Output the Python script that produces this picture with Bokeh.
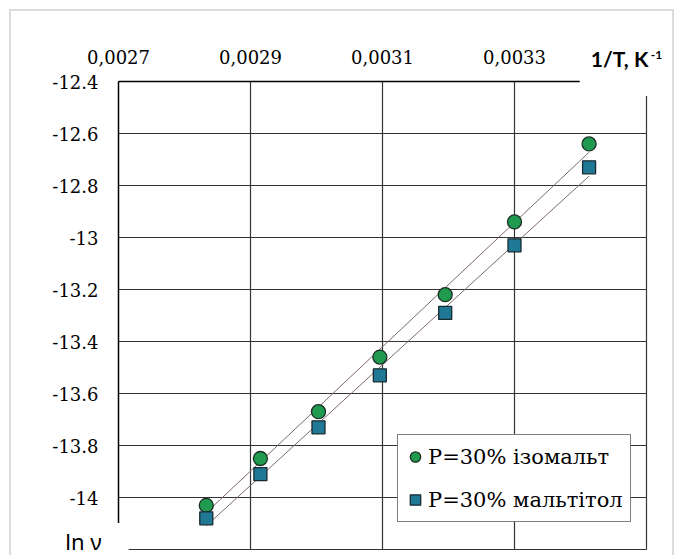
import numpy as np
from bokeh.plotting import figure
from bokeh.models import (FixedTicker, CustomJSTickFormatter, BasicTickFormatter,
                          Label, Legend, LegendItem)
from bokeh.embed import file_html
from bokeh.resources import INLINE

# ---- data ----
inv_T = [0.002833, 0.002915, 0.003003, 0.003096, 0.003195, 0.003300, 0.003413]
ln_v_isomalt = [-14.03, -13.85, -13.67, -13.46, -13.22, -12.94, -12.64]
ln_v_maltitol = [-14.08, -13.91, -13.73, -13.53, -13.29, -13.03, -12.73]
series_labels = ["P=30% ізомальт", "P=30% мальтітол"]
x_ticks = [0.0027, 0.0029, 0.0031, 0.0033]
x_grid = [0.0029, 0.0031, 0.0033, 0.0035]
y_ticks = [-14.0, -13.8, -13.6, -13.4, -13.2, -13.0, -12.8, -12.6, -12.4]
y_tick_labels = ["-14", "-13.8", "-13.6", "-13.4", "-13.2", "-13", "-12.8", "-12.6", "-12.4"]
y_grid = [-14.2, -14.0, -13.8, -13.6, -13.4, -13.2, -13.0, -12.8, -12.6]
x_bounds = (0.0027, 0.0035)
y_bounds = (-14.2, -12.4)
x_title = "1/T, K"
x_title_sup = "-1"
y_title = "ln ν"

SERIF = "DejaVu Serif"

# pixel geometry of the drawing area
W, H = 665, 546
PX_X = 660000.0   # pixels per unit of 1/T
PX_Y = 260.0      # pixels per unit of ln v
LEFT, TOP = 107, 70   # position of (x_bounds[0], y_bounds[1]) inside the canvas

x0 = x_bounds[0] - LEFT / PX_X
x1 = x0 + W / PX_X
y1 = y_bounds[1] + TOP / PX_Y
y0 = y1 - H / PX_Y

p = figure(width=W, height=H, output_backend="svg", toolbar_location=None,
           x_axis_location="above",
           x_range=(x0, x1), y_range=(y0, y1),
           min_border_left=0, min_border_right=0,
           min_border_top=0, min_border_bottom=0)
p.styles = {"margin-left": "9px", "margin-top": "9px",
            "border-left": "2px solid #dcdcdc",
            "border-top": "2px solid #dcdcdc",
            "border-right": "2px solid #dcdcdc"}
p.outline_line_color = None
p.background_fill_color = "white"
p.border_fill_color = "white"

xa = p.xaxis[0]
ya = p.yaxis[0]
xa.ticker = FixedTicker(ticks=x_ticks)
ya.ticker = FixedTicker(ticks=y_ticks)
xa.formatter = CustomJSTickFormatter(code="return tick.toFixed(4).replace('.', ',');")
ya.formatter = BasicTickFormatter(use_scientific=False)
ya.major_label_overrides = {t: s for t, s in zip(y_ticks, y_tick_labels)}
xa.fixed_location = y_bounds[1]
ya.fixed_location = x_bounds[0]
xa.bounds = x_bounds
ya.bounds = y_bounds

for ax in (xa, ya):
    ax.axis_line_color = "black"
    ax.axis_line_width = 1.5
    ax.major_tick_in = 0
    ax.major_tick_out = 0
    ax.minor_tick_in = 0
    ax.minor_tick_out = 0
    ax.major_label_text_font = SERIF
    ax.major_label_text_font_style = "normal"
    ax.major_label_text_font_size = "18px"
    ax.major_label_text_color = "black"
ya.major_label_standoff = 20
xa.major_label_standoff = 18

grid_ok = True
try:
    p.xgrid.cross_bounds = y_bounds
    p.ygrid.cross_bounds = x_bounds
except Exception:
    grid_ok = False

if grid_ok:
    p.xgrid.ticker = FixedTicker(ticks=x_grid)
    p.ygrid.ticker = FixedTicker(ticks=y_grid)
    for g in (p.xgrid, p.ygrid):
        g.grid_line_color = "#333333"
        g.grid_line_width = 1.2
else:
    p.xgrid.visible = False
    p.ygrid.visible = False
    p.segment(x0=x_grid, y0=[y_bounds[0]] * len(x_grid),
              x1=x_grid, y1=[y_bounds[1]] * len(x_grid),
              line_color="#333333", line_width=1.2)
    p.segment(x0=[x_bounds[0]] * len(y_grid), y0=y_grid,
              x1=[x_bounds[1]] * len(y_grid), y1=y_grid,
              line_color="#333333", line_width=1.2)

# trend lines (least squares fit of each series)
for ys in (ln_v_isomalt, ln_v_maltitol):
    coef = np.polyfit(inv_T, ys, 1)
    xs = np.array([min(inv_T), max(inv_T)])
    p.line(xs, np.polyval(coef, xs), line_color="#7d6a6a", line_width=1)

r1 = p.scatter(inv_T, ln_v_isomalt, marker="circle", size=14,
               fill_color="#1f9a4e", line_color="#1b2e26", line_width=1.3)
r2 = p.scatter(inv_T, ln_v_maltitol, marker="square", size=13,
               fill_color="#1f7894", line_color="#182a30", line_width=1.3)

legend = Legend(items=[LegendItem(label=series_labels[0], renderers=[r1]),
                       LegendItem(label=series_labels[1], renderers=[r2])],
                location=(386, 35), margin=0, padding=4, spacing=8,
                label_standoff=0, glyph_width=26, glyph_height=35,
                label_height=35, label_width=198,
                label_text_font=SERIF, label_text_font_size="21px",
                label_text_color="black",
                border_line_color="black", border_line_width=1,
                background_fill_color="white", background_fill_alpha=1.0)
p.add_layout(legend)

t1 = Label(x=x_bounds[1], y=y_bounds[1], text=x_title, text_font="Lato",
           text_font_style="bold", text_font_size="21px", text_color="black",
           text_align="center", text_baseline="middle",
           x_offset=-19, y_offset=15,
           background_fill_color="white",
           padding=dict(left=11, right=27, top=9, bottom=25))
p.add_layout(t1)

t1s = Label(x=x_bounds[1], y=y_bounds[1], text=x_title_sup, text_font="Lato",
            text_font_style="bold", text_font_size="12px", text_color="black",
            text_align="center", text_baseline="middle",
            x_offset=10, y_offset=27)
p.add_layout(t1s)

t2 = Label(x=x_bounds[0], y=y_bounds[0], text=y_title, text_font="Noto Sans",
           text_font_size="22px", text_color="black",
           text_align="center", text_baseline="middle",
           x_offset=-28, y_offset=9,
           background_fill_color="white",
           padding=dict(left=13, right=27, top=3, bottom=2))
p.add_layout(t2)

open("out.html", "w").write(file_html(p, INLINE))
